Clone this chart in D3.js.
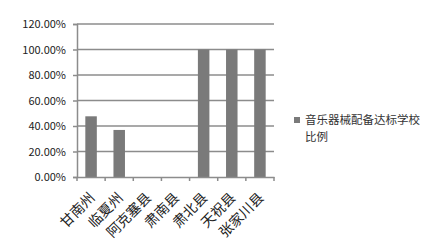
<!DOCTYPE html>
<html>
<head>
<meta charset="utf-8">
<script src="https://cdn.jsdelivr.net/npm/d3@7"></script>
<style>
  body { margin: 0; background: #fff; }
  svg text { font-family: "Noto Sans CJK SC", "DejaVu Sans", sans-serif; }
</style>
</head>
<body>
<div id="chart"></div>
<script>
const categories = ['甘南州', '临夏州', '阿克塞县', '肃南县', '肃北县', '天祝县', '张家川县'];
const values = [0.476, 0.369, 0, 0, 1, 1, 1];
const yTicks = [0, 0.2, 0.4, 0.6, 0.8, 1.0, 1.2];
const seriesName = ['音乐器械配备达标学校', '比例'];

const width = 446, height = 240;
const plotLeft = 77, plotRight = 274, plotTop = 24, plotBottom = 177;

const svg = d3.select('#chart').append('svg')
  .attr('width', width).attr('height', height);

const x = d3.scaleBand().domain(categories).range([plotLeft, plotRight]);
const y = d3.scaleLinear().domain([0, 1.2]).range([plotBottom, plotTop]);

// grid
svg.append('g').selectAll('line')
  .data(yTicks.slice(1))
  .enter().append('line')
  .attr('x1', plotLeft).attr('x2', plotRight)
  .attr('y1', d => y(d)).attr('y2', d => y(d))
  .attr('stroke', '#8c8c8c').attr('stroke-width', 1.5);

// bars
const barW = 11.5;
svg.append('g').selectAll('rect')
  .data(values)
  .enter().append('rect')
  .attr('x', (d, i) => x(categories[i]) + x.bandwidth() / 2 - barW / 2)
  .attr('y', d => y(d))
  .attr('width', barW)
  .attr('height', d => plotBottom - y(d))
  .attr('fill', '#7a7a7a');

// y axis
const yAxis = svg.append('g')
  .attr('transform', 'translate(' + plotLeft + ',0)')
  .call(d3.axisLeft(y).tickValues(yTicks).tickSize(4)
    .tickFormat(d => (d * 100).toFixed(2) + '%'));
yAxis.select('.domain').attr('stroke', '#8c8c8c').attr('stroke-width', 1.5);
yAxis.selectAll('.tick line').attr('stroke', '#8c8c8c').attr('stroke-width', 1.5);
yAxis.selectAll('.tick text').attr('font-size', 11).attr('fill', '#222')
  .attr('x', -11).attr('font-family', '"DejaVu Sans", sans-serif');

// x axis
const xAxis = svg.append('g')
  .attr('transform', 'translate(0,' + plotBottom + ')')
  .call(d3.axisBottom(x).tickSize(0).tickFormat(''));
xAxis.select('.domain').attr('stroke', '#8c8c8c').attr('stroke-width', 1.5);
svg.append('g').selectAll('line')
  .data(d3.range(categories.length + 1))
  .enter().append('line')
  .attr('x1', i => plotLeft + i * x.step()).attr('x2', i => plotLeft + i * x.step())
  .attr('y1', plotBottom).attr('y2', plotBottom + 4)
  .attr('stroke', '#8c8c8c').attr('stroke-width', 1.5);

svg.append('g').selectAll('text')
  .data(categories)
  .enter().append('text')
  .attr('transform', d => 'translate(' + (x(d) + x.bandwidth() / 2 + 2) + ',' + (plotBottom + 19) + ') rotate(-45)')
  .attr('text-anchor', 'end')
  .attr('dominant-baseline', 'middle')
  .attr('font-size', 14)
  .attr('fill', '#222')
  .text(d => d);

// legend
svg.append('rect')
  .attr('x', 294).attr('y', 117).attr('width', 6).attr('height', 6)
  .attr('fill', '#7a7a7a');
svg.append('g').selectAll('text')
  .data(seriesName)
  .enter().append('text')
  .attr('x', 305).attr('y', (d, i) => 124 + i * 17)
  .attr('font-size', 11.5).attr('fill', '#333')
  .text(d => d);
</script>
</body>
</html>
